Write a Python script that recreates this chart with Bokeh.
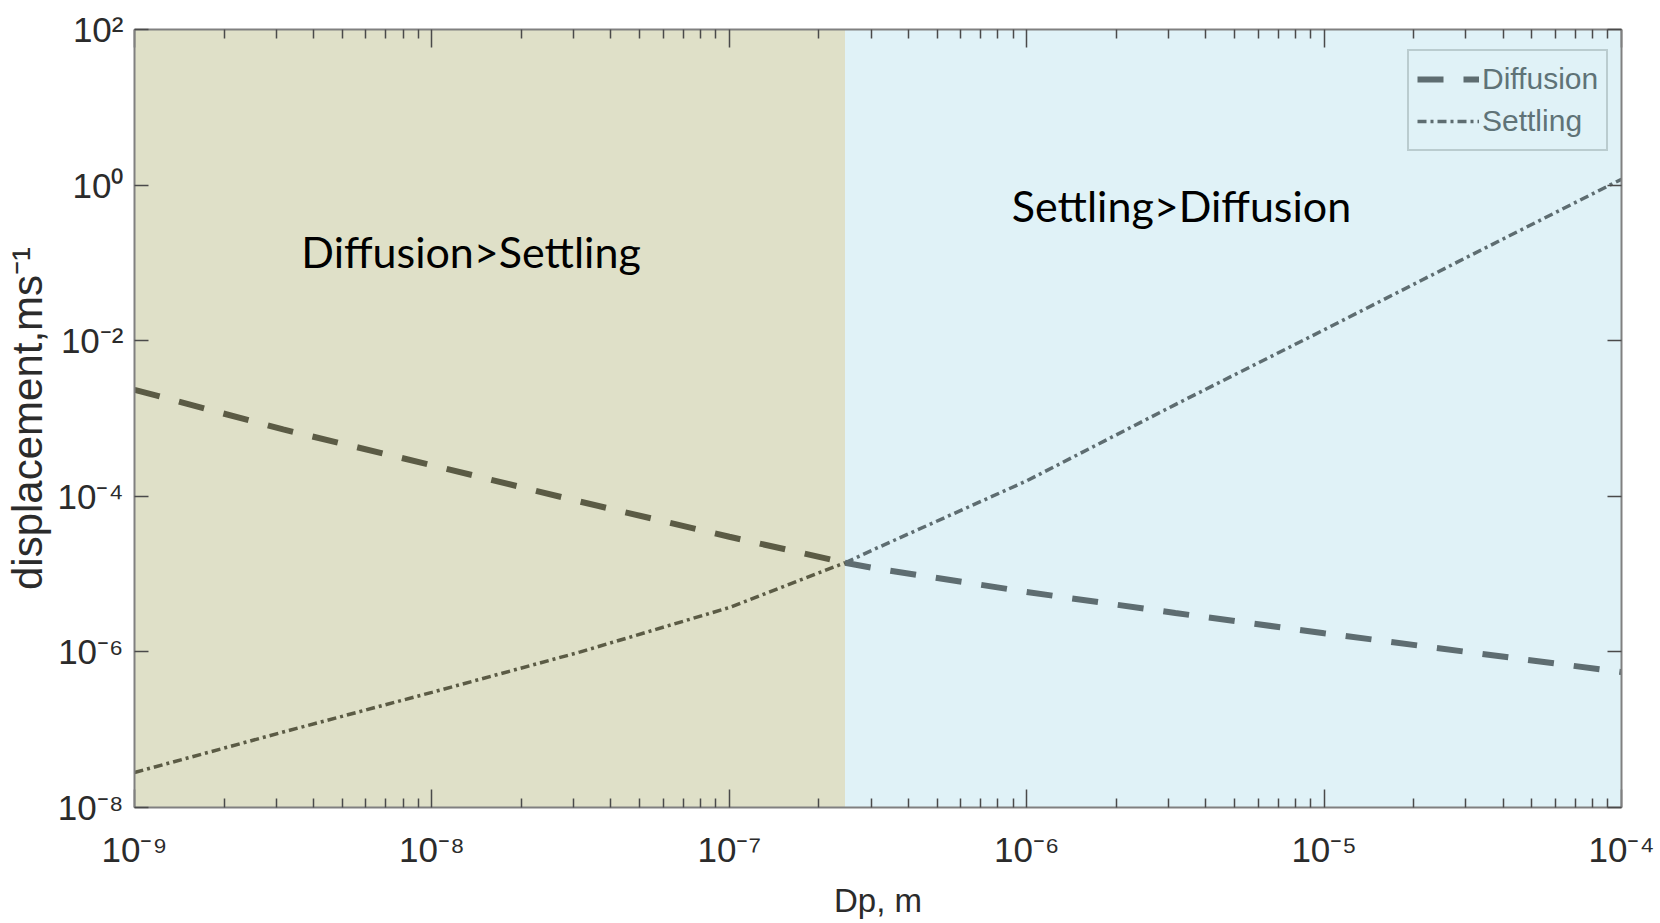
from bokeh.plotting import figure
from bokeh.models import (LogAxis, FixedTicker, CustomJSTickFormatter, Legend,
                          LegendItem, BoxAnnotation, Label)
from bokeh.embed import file_html
from bokeh.resources import INLINE

# ---------------- data ----------------
dp = [1e-9, 3.16e-9, 1e-8, 3.16e-8, 1e-7, 2.45e-7, 3.16e-7, 1e-6, 3.16e-6, 1e-5, 3.16e-5, 1e-4]
diffusion = [2.34e-3, 7.24e-4, 2.51e-4, 8.51e-5, 3.02e-5, 1.40e-5, 1.17e-5, 5.89e-6, 3.16e-6, 1.74e-6, 9.77e-7, 5.50e-7]
settling = [2.82e-8, 9.33e-8, 3.02e-7, 1.00e-6, 3.72e-6, 1.40e-5, 2.19e-5, 1.58e-4, 1.51e-3, 1.38e-2, 0.129, 1.19]
region_edges = [1e-9, 2.45e-7, 1e-4]
region_labels = ["Diffusion>Settling", "Settling>Diffusion"]
series_names = ["Diffusion", "Settling"]

x_tick_values = [1e-9, 1e-8, 1e-7, 1e-6, 1e-5, 1e-4]
x_tick_labels = ["10\u207b\u2079", "10\u207b\u2078", "10\u207b\u2077", "10\u207b\u2076", "10\u207b\u2075", "10\u207b\u2074"]
y_tick_values = [1e-8, 1e-6, 1e-4, 1e-2, 1e0, 1e2]
y_tick_labels = ["10\u207b\u2078", "10\u207b\u2076", "10\u207b\u2074", "10\u207b\u00b2", "10\u2070", "10\u00b2"]

# ---------------- styling ----------------
FONT = "Liberation Sans"
LEFT_BG = "#dfe0c8"
RIGHT_BG = "#e0f2f7"
OLIVE = "#5b5b45"
SLATE = "#5e6d71"
AXIS_C = "#808080"
TICK_C = "#4a4a4a"
LABEL_C = "#2b2b2b"

p = figure(width=1660, height=923, x_axis_type="log", y_axis_type="log",
           x_range=(1e-9, 1e-4), y_range=(1e-8, 1e2),
           output_backend="svg", toolbar_location=None,
           min_border_left=133, min_border_right=39, min_border_top=29, min_border_bottom=116)
p.grid.visible = False
p.outline_line_color = None
p.background_fill_color = "white"
p.border_fill_color = "white"

# background regions
p.add_layout(BoxAnnotation(left=region_edges[0], right=region_edges[1], fill_color=LEFT_BG,
                           fill_alpha=1.0, line_color=None, level="underlay"))
p.add_layout(BoxAnnotation(left=region_edges[1], right=region_edges[2], fill_color=RIGHT_BG,
                           fill_alpha=1.0, line_color=None, level="underlay"))

# lines, split at the region boundary so the colour changes like in the reference
b = dp.index(region_edges[1])
DIFF_DASH = "26 20"
SET_DASH = "9 4 3 4"
p.line(dp[:b + 1], diffusion[:b + 1], line_color=OLIVE, line_width=6, line_dash=DIFF_DASH)
r_diff = p.line(dp[b:], diffusion[b:], line_color=SLATE, line_width=6, line_dash=DIFF_DASH)
p.line(dp[:b + 1], settling[:b + 1], line_color=OLIVE, line_width=3.5, line_dash=SET_DASH)
r_set = p.line(dp[b:], settling[b:], line_color=SLATE, line_width=3.5, line_dash=SET_DASH)

# tickers / formatters
x_minor = [m * 10.0 ** e for e in range(-9, -4) for m in range(2, 10)]
xticker = FixedTicker(ticks=x_tick_values, minor_ticks=x_minor)
yticker = FixedTicker(ticks=y_tick_values, minor_ticks=[])

fmt_code = """
let best = 0, bd = Infinity;
for (let i = 0; i < vals.length; i++) {
  const d = Math.abs(Math.log10(tick) - Math.log10(vals[i]));
  if (d < bd) { bd = d; best = i; }
}
return bd < 0.01 ? labs[best] : "";
"""
xfmt = CustomJSTickFormatter(args=dict(vals=x_tick_values, labs=x_tick_labels), code=fmt_code)
yfmt = CustomJSTickFormatter(args=dict(vals=y_tick_values, labs=y_tick_labels), code=fmt_code)
blank = CustomJSTickFormatter(code='return "";')


def style_axis(ax, major_in, minor_in):
    ax.axis_line_color = AXIS_C
    ax.axis_line_width = 2
    ax.major_tick_line_color = TICK_C
    ax.minor_tick_line_color = TICK_C
    ax.major_tick_line_width = 1.5
    ax.minor_tick_line_width = 1.5
    ax.major_tick_in = major_in
    ax.major_tick_out = 0
    ax.minor_tick_in = minor_in
    ax.minor_tick_out = 0
    ax.major_label_text_font = FONT
    ax.major_label_text_font_size = "35px"
    ax.major_label_text_color = LABEL_C
    ax.axis_label_text_font = FONT
    ax.axis_label_text_font_style = "normal"
    ax.axis_label_text_color = LABEL_C


xa = p.xaxis[0]
xa.ticker = xticker
xa.formatter = xfmt
style_axis(xa, 18, 9)
xa.major_label_standoff = 22
xa.axis_label = "Dp, m"
xa.axis_label_text_font_size = "33px"
xa.axis_label_standoff = 10

ya = p.yaxis[0]
ya.ticker = yticker
ya.formatter = yfmt
style_axis(ya, 14, 7)
ya.major_label_standoff = 11
ya.axis_label = "displacement,ms\u207b\u00b9"
ya.axis_label_text_font_size = "42px"
ya.axis_label_standoff = 4

top = LogAxis(ticker=xticker, formatter=blank)
style_axis(top, 18, 9)
top.major_label_text_font_size = "0px"
top.major_label_standoff = 0
p.add_layout(top, "above")

right = LogAxis(ticker=yticker, formatter=blank)
style_axis(right, 14, 7)
right.major_label_text_font_size = "0px"
right.major_label_standoff = 0
p.add_layout(right, "right")

# region annotations
p.add_layout(Label(x=3.64e-9, y=0.141, text=region_labels[0], text_font="Lato",
                   text_font_size="43px", text_color="black", text_baseline="alphabetic"))
p.add_layout(Label(x=8.91e-7, y=0.55, text=region_labels[1], text_font="Lato",
                   text_font_size="43px", text_color="black", text_baseline="alphabetic"))

# legend
legend = Legend(items=[LegendItem(label=series_names[0], renderers=[r_diff]),
                       LegendItem(label=series_names[1], renderers=[r_set])],
                location=(1273, 656), orientation="vertical",
                border_line_color="#93a5a8", border_line_width=2,
                background_fill_alpha=0.0,
                label_text_font=FONT, label_text_font_size="30px", label_text_color="#5f7377",
                glyph_width=62, glyph_height=20, label_standoff=3, padding=8,
                spacing=2, label_height=40, margin=0)
p.add_layout(legend)

open("out.html", "w").write(file_html(p, INLINE))
